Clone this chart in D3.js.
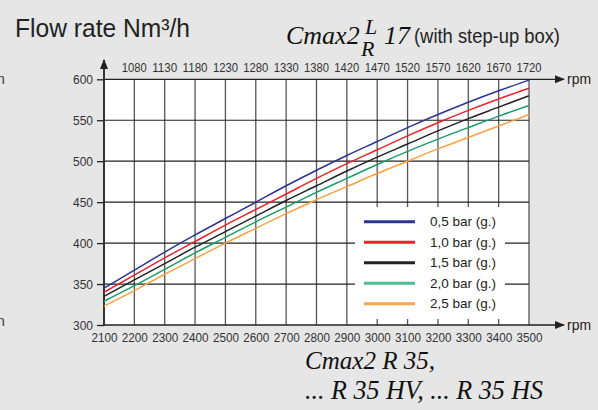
<!DOCTYPE html>
<html><head><meta charset="utf-8">
<script src="https://cdn.jsdelivr.net/npm/d3@7"></script>
<style>
html,body{margin:0;padding:0;background:#e6e6e6;}
svg{display:block;}
.narrow{font-family:"Liberation Sans","Arial",sans-serif;}
.script{font-family:"Liberation Serif","DejaVu Serif",serif;font-style:italic;}
</style></head>
<body>
<svg id="c" width="598" height="410"></svg>
<script>
const rpm = [2100,2200,2300,2400,2500,2600,2700,2800,2900,3000,3100,3200,3300,3400,3500];
const topLabels = [1080,1130,1180,1230,1280,1330,1380,1420,1470,1520,1570,1620,1670,1720];
const yTicks = [300,350,400,450,500,550,600];
const seriesNames = ["0,5 bar (g.)","1,0 bar (g.)","1,5 bar (g.)","2,0 bar (g.)","2,5 bar (g.)"];
const flow05 = [345,367,389,410,430,450,470,489,507,524,541,557,572,586,599];
const flow10 = [340,361,382,402,422,441,460,479,497,514,531,547,562,576,589];
const flow15 = [335,355,375,395,414,433,452,470,488,505,521,537,552,566,580];
const flow20 = [329,348,368,388,407,426,444,462,479,496,512,527,541,555,568];
const flow25 = [323,342,362,381,400,418,436,453,469,485,500,515,529,543,557];
const colors = ["#2a3593","#e8232b","#222222","#1a9e68","#f9a03f"];
const legendColors = ["#2a3593","#e8232b","#222222","#4cbf8e","#fba64a"];
const allSeries = [flow05,flow10,flow15,flow20,flow25];

const svg = d3.select("#c");
const x = d3.scaleLinear().domain([2100,3500]).range([104,529]);
const y = d3.scaleLinear().domain([300,600]).range([325,79.3]);

// condense text by fitting to a measured reference width
function fit(sel, w){ sel.attr("textLength", w).attr("lengthAdjust","spacingAndGlyphs"); return sel; }

// cropped neighbour text at far left
svg.append("text").attr("class","narrow").attr("x",-3).attr("y",84).attr("font-size",14).attr("fill","#333").text("n");
svg.append("text").attr("class","narrow").attr("x",-3).attr("y",326).attr("font-size",14).attr("fill","#333").text("n");

// title
fit(svg.append("text").attr("class","narrow").attr("x",15).attr("y",37).attr("font-size",25).attr("fill","#222")
  .text("Flow rate Nm³/h"),175);

// model text top
const t = svg.append("g").attr("fill","#111");
t.append("text").attr("class","script").attr("x",286).attr("y",44).attr("font-size",26).text("Cmax2");
t.append("text").attr("class","script").attr("x",365).attr("y",34).attr("font-size",22).text("L");
t.append("text").attr("class","script").attr("x",361).attr("y",56).attr("font-size",22).text("R");
t.append("text").attr("class","script").attr("x",384).attr("y",44).attr("font-size",26).text("17");
fit(t.append("text").attr("class","narrow").attr("x",414).attr("y",43).attr("font-size",20).attr("fill","#222").text("(with step-up box)"),146);

// plot background
svg.append("rect").attr("x",x(2100)).attr("y",y(600)).attr("width",x(3500)-x(2100)).attr("height",y(300)-y(600)).attr("fill","#fff");

// vertical grid
svg.append("g").selectAll("line").data(rpm.slice(1)).join("line")
  .attr("x1",d=>x(d)).attr("x2",d=>x(d)).attr("y1",y(600)).attr("y2",y(300))
  .attr("stroke","#555").attr("stroke-width",1.3);
// horizontal grid
svg.append("g").selectAll("line").data(yTicks.slice(1,-1)).join("line")
  .attr("x1",x(2100)).attr("x2",x(3500)).attr("y1",d=>y(d)).attr("y2",d=>y(d))
  .attr("stroke","#222").attr("stroke-width",1.2);

// top line and bottom axis with arrows
svg.append("defs").append("marker").attr("id","arr").attr("viewBox","0 0 10 10").attr("refX",9).attr("refY",5)
  .attr("markerWidth",10).attr("markerHeight",10).attr("markerUnits","userSpaceOnUse").attr("orient","auto")
  .append("path").attr("d","M0,1 L10,5 L0,9 Z").attr("fill","#222");
[600,300].forEach(v=>{
  svg.append("line").attr("x1",x(2100)).attr("x2",564).attr("y1",y(v)).attr("y2",y(v))
    .attr("stroke","#222").attr("stroke-width",1.3).attr("marker-end","url(#arr)");
  fit(svg.append("text").attr("class","narrow").attr("x",567).attr("y",y(v)+5).attr("font-size",15).attr("fill","#222").text("rpm"),24);
});
// y axis
svg.append("line").attr("x1",x(2100)).attr("x2",x(2100)).attr("y1",y(300)+1).attr("y2",60)
  .attr("stroke","#333").attr("stroke-width",2).attr("marker-end","url(#arr)");

// y ticks
const yAxis = d3.axisLeft(y).tickValues(yTicks).tickSize(7).tickPadding(4);
const ya = svg.append("g").attr("transform",`translate(${x(2100)},0)`).call(yAxis);
ya.select(".domain").remove();
ya.selectAll("line").attr("stroke","#222").attr("stroke-width",1.3);
fit(ya.selectAll("text").attr("class","narrow").attr("font-size",13).attr("fill","#333").attr("dy","0.35em"),20);

// bottom labels
const xAxis = d3.axisBottom(x).tickValues(rpm).tickSize(0).tickPadding(8).tickFormat(d3.format("d"));
const xa = svg.append("g").attr("transform",`translate(0,${y(300)})`).call(xAxis);
xa.select(".domain").remove();
fit(xa.selectAll("text").attr("class","narrow").attr("font-size",12).attr("fill","#333"),26);

// top labels
fit(svg.append("g").selectAll("text").data(topLabels).join("text")
  .attr("class","narrow").attr("x",(d,i)=>x(rpm[i+1])).attr("y",72).attr("text-anchor","middle")
  .attr("font-size",12).attr("fill","#333").text(d=>d),25);

// curves
const line = d3.line().x((d,i)=>x(rpm[i])).y(d=>y(d)).curve(d3.curveMonotoneX);
svg.append("g").selectAll("path").data(allSeries).join("path")
  .attr("d",line).attr("fill","none").attr("stroke",(d,i)=>colors[i]).attr("stroke-width",1.5);

// legend
const lg = svg.append("g");
lg.append("rect").attr("x",355).attr("y",207).attr("width",150).attr("height",112).attr("fill","#fff");
seriesNames.forEach((n,i)=>{
  const yy = 221.7 + i*20.5;
  lg.append("line").attr("x1",364).attr("x2",415).attr("y1",yy).attr("y2",yy).attr("stroke",legendColors[i]).attr("stroke-width",3);
  fit(lg.append("text").attr("class","narrow").attr("x",430).attr("y",yy+4.5).attr("font-size",13.5).attr("fill","#222").text(n),66);
});

// bottom model text
const b = svg.append("g").attr("fill","#111");
fit(b.append("text").attr("class","script").attr("x",305).attr("y",369).attr("font-size",26).text("Cmax2 R 35,"),130);
fit(b.append("text").attr("class","script").attr("x",305).attr("y",399).attr("font-size",27).text("... R 35 HV,  ... R 35 HS"),238);
</script>
</body></html>
